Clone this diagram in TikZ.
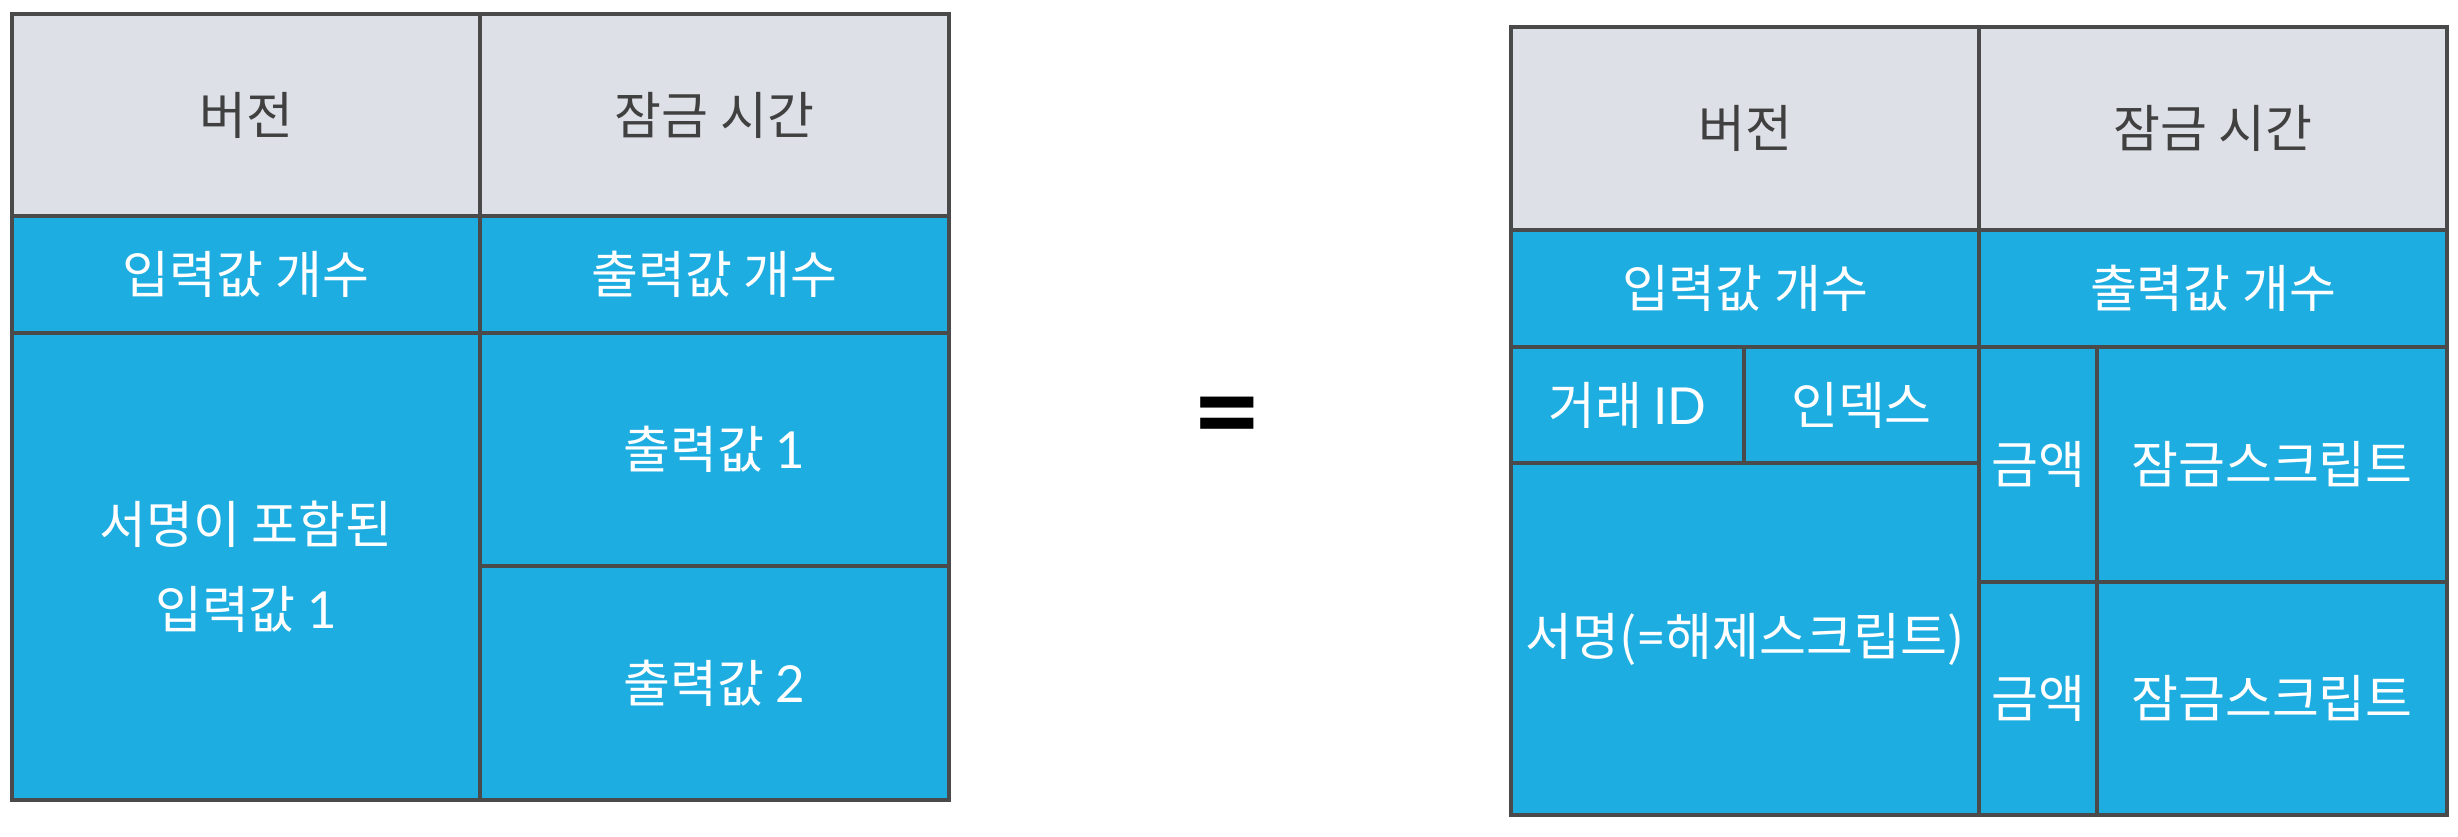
\documentclass[tikz,border=0pt]{standalone}
\usepackage{fontspec}
\setmainfont{Noto Sans CJK KR}
\newfontfamily\lat{Lato}
\definecolor{hdrgray}{HTML}{DDE0E7}
\definecolor{cellblue}{HTML}{1EADE1}
\definecolor{edgegray}{HTML}{4A4A4A}
\definecolor{txtgray}{HTML}{404040}
\begin{document}
\begin{tikzpicture}[x=1pt,y=-1pt,
  cellbase/.style={draw=edgegray,line width=3.5pt,inner sep=0pt,outer sep=0pt,
    font=\fontsize{51}{61}\selectfont,align=center},
  hdr/.style={cellbase,fill=hdrgray,text=txtgray},
  blu/.style={cellbase,fill=cellblue,text=white},
  sz/.style 2 args={minimum width=#1pt,minimum height=#2pt}]
\useasboundingbox (0,0) rectangle (2458,836);
% left table
\node[hdr,sz={468}{202}] (lv) at (246,115) {버전};
\node[hdr,sz={469}{202}] (ll) at (714.5,115) {잠금 시간};
\node[blu,sz={468}{117}] (lic) at (246,274.5) {입력값 개수};
\node[blu,sz={469}{117}] (loc) at (714.5,274.5) {출력값 개수};
\node[blu,sz={468}{467}] (lin) at (246,566.5) {서명이 포함된\\[24pt]입력값 {\lat 1}};
\node[blu,sz={469}{233}] (lo1) at (714.5,449.5) {출력값 {\lat 1}};
\node[blu,sz={469}{234}] (lo2) at (714.5,683) {출력값 {\lat 2}};
% equals
\node[inner sep=0pt,font=\lat\bfseries\fontsize{120}{120}\selectfont] (eq) at (1227,425) {=};
% right table
\node[hdr,sz={468}{203}] (rv) at (1745,128.5) {버전};
\node[hdr,sz={468}{203}] (rl) at (2213,128.5) {잠금 시간};
\node[blu,sz={468}{117}] (ric) at (1745,288.5) {입력값 개수};
\node[blu,sz={468}{117}] (roc) at (2213,288.5) {출력값 개수};
\node[blu,sz={233}{116}] (rtx) at (1627.5,405) {거래 {\lat ID}};
\node[blu,sz={235}{116}] (ridx) at (1861.5,405) {인덱스};
\node[blu,sz={468}{352}] (rsig) at (1745,639) {서명({\lat =}해제스크립트)};
\node[blu,sz={118}{235}] (ra1) at (2038,464.5) {금액};
\node[blu,sz={350}{235}] (rs1) at (2272,464.5) {잠금스크립트};
\node[blu,sz={118}{233}] (ra2) at (2038,698.5) {금액};
\node[blu,sz={350}{233}] (rs2) at (2272,698.5) {잠금스크립트};
\end{tikzpicture}
\end{document}
